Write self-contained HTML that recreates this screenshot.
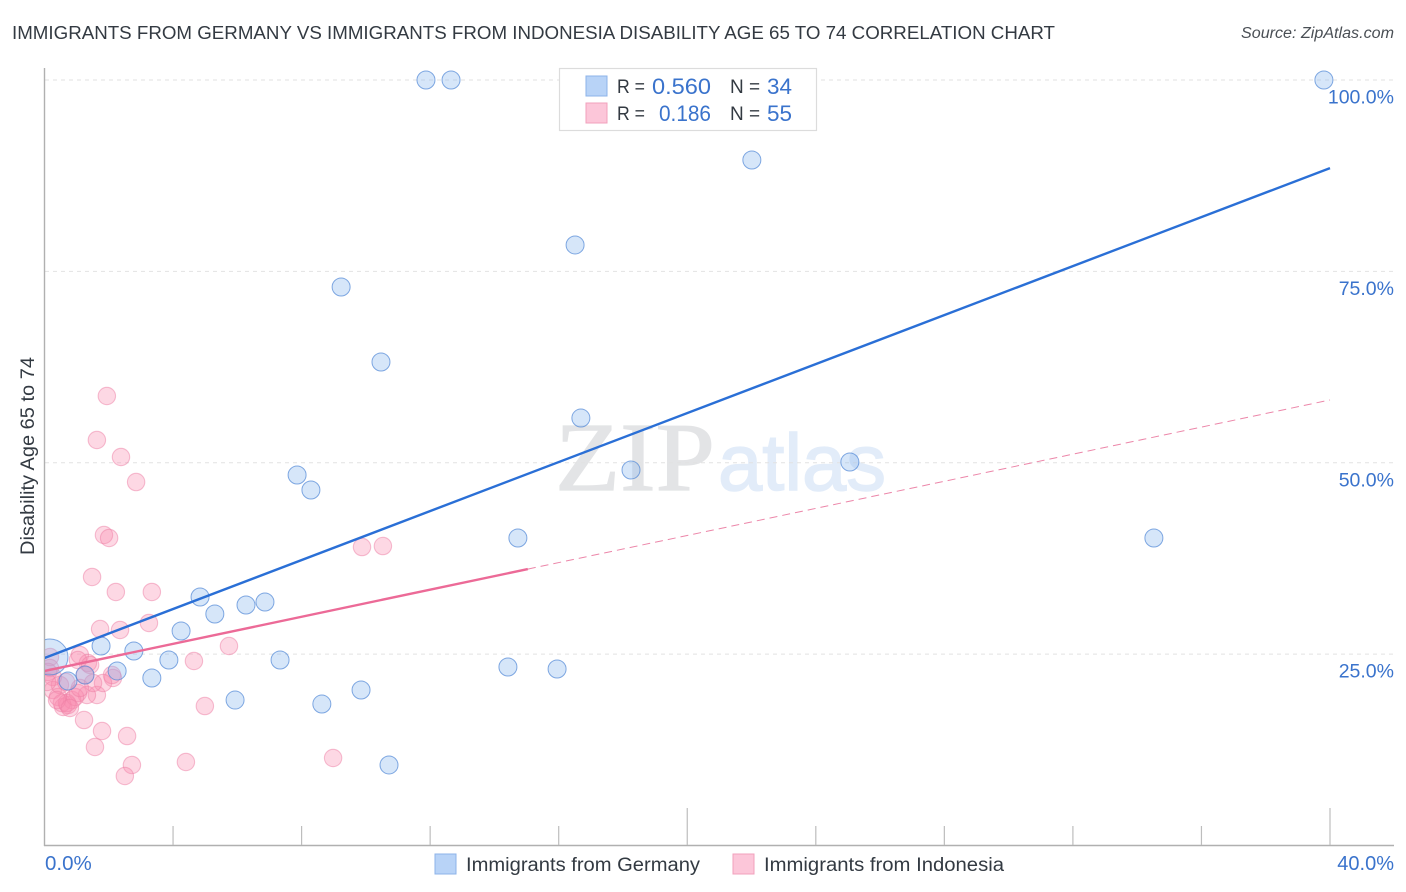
<!DOCTYPE html>
<html>
<head>
<meta charset="utf-8">
<title>Immigrants from Germany vs Immigrants from Indonesia Disability Age 65 to 74</title>
<style>
html,body{margin:0;padding:0;background:#fff;width:1406px;height:892px;overflow:hidden}
svg{display:block}
text{font-family:"Liberation Sans",sans-serif}
</style>
</head>
<body>
<svg id="chart" width="1406" height="892" viewBox="0 0 1406 892" xmlns="http://www.w3.org/2000/svg">
  <defs><clipPath id="plot-clip"><rect x="45" y="60" width="1349" height="785"/></clipPath></defs>
  <text x="12" y="39" font-size="18.5" fill="#333a42" textLength="1043" lengthAdjust="spacingAndGlyphs">IMMIGRANTS FROM GERMANY VS IMMIGRANTS FROM INDONESIA DISABILITY AGE 65 TO 74 CORRELATION CHART</text>
  <text x="1241" y="38" font-size="15.5" font-style="italic" fill="#4a4f55" textLength="153" lengthAdjust="spacingAndGlyphs">Source: ZipAtlas.com</text>
  <g>
    <text x="555" y="490" font-size="97" style="font-family:'Liberation Serif',serif" fill="#e3e4e6" stroke="#e3e4e6" stroke-width="1.2" textLength="160" lengthAdjust="spacingAndGlyphs">ZIP</text>
    <text x="718" y="490" font-size="80" fill="#e2ecf9" stroke="#e2ecf9" stroke-width="1.5" textLength="168" lengthAdjust="spacingAndGlyphs">atlas</text>
  </g>
  <g id="grid"></g>
  <g id="axes"></g>
  <g id="pink-points" clip-path="url(#plot-clip)"></g>
  <g id="blue-points" clip-path="url(#plot-clip)"></g>
  <g id="trends" clip-path="url(#plot-clip)"></g>
  <text transform="translate(34,555) rotate(-90)" font-size="19" fill="#333a42" textLength="198" lengthAdjust="spacingAndGlyphs">Disability Age 65 to 74</text>
  <g>
    <rect x="559.5" y="68.5" width="257" height="62" fill="#fff" stroke="#dcdcdc" stroke-width="1.2"/>
    <rect x="586" y="76" width="21" height="20" fill="#b8d3f7" stroke="#8db3e8" stroke-width="1"/>
    <rect x="586" y="103" width="21" height="20" fill="#fcc6d9" stroke="#f2a0bc" stroke-width="1"/>
    <text x="617" y="93" font-size="19" fill="#333a42" textLength="28" lengthAdjust="spacingAndGlyphs">R =</text>
    <text x="652" y="94" font-size="22" fill="#3a73cc" textLength="59" lengthAdjust="spacingAndGlyphs">0.560</text>
    <text x="730" y="93" font-size="19" fill="#333a42">N =</text>
    <text x="767" y="94" font-size="22" fill="#3a73cc" textLength="25" lengthAdjust="spacingAndGlyphs">34</text>
    <text x="617" y="120" font-size="19" fill="#333a42" textLength="28" lengthAdjust="spacingAndGlyphs">R =</text>
    <text x="659" y="121" font-size="22" fill="#3a73cc" textLength="52" lengthAdjust="spacingAndGlyphs">0.186</text>
    <text x="730" y="120" font-size="19" fill="#333a42">N =</text>
    <text x="767" y="121" font-size="22" fill="#3a73cc" textLength="25" lengthAdjust="spacingAndGlyphs">55</text>
  </g>
  <g>
    <rect x="435" y="854" width="21" height="20" fill="#b8d3f7" stroke="#8db3e8" stroke-width="1"/>
    <text x="466" y="871" font-size="19" fill="#333a42" textLength="234" lengthAdjust="spacingAndGlyphs">Immigrants from Germany</text>
    <rect x="733" y="854" width="21" height="20" fill="#fcc6d9" stroke="#f2a0bc" stroke-width="1"/>
    <text x="764" y="871" font-size="19" fill="#333a42" textLength="240" lengthAdjust="spacingAndGlyphs">Immigrants from Indonesia</text>
  </g>
</svg>
<script>
const yTicks = [25, 50, 75, 100];
const yTickLabels = ["25.0%", "50.0%", "75.0%", "100.0%"];
const xTicks = [0, 4, 8, 12, 16, 20, 24, 28, 32, 36, 40];
const xEndLabels = ["0.0%", "40.0%"];

const germanyX = [11.87,12.65,39.81,22.01,16.51,9.23,10.47,16.69,18.25,25.06,7.86,8.29,14.73,34.52,4.84,5.30,6.27,6.86,4.25,1.76,2.78,3.87,7.33,2.26,3.34,1.26,0.73,14.42,15.95,5.93,8.63,9.85,10.72,0.17];
const germanyY = [100,100,100,89.55,78.45,72.96,63.16,55.84,49.05,50.1,48.4,46.44,40.17,40.17,32.46,30.24,31.42,31.81,28.02,26.06,25.41,24.23,24.23,22.8,21.88,22.27,21.49,23.32,23.06,19.0,18.48,20.31,10.52,24.62];
const germanySizes = [9,9,9,9,9,9,9,9,9,9,9,9,9,9,9,9,9,9,9,9,9,9,9,9,9,9,9,9,9,9,9,9,9,18];

const indonesiaX = [1.48,2.22,3.34,1.73,2.35,3.25,5.74,4.65,4.99,4.40,2.72,2.50,1.57,2.57,1.79,1.23,1.94,1.63,2.38,2.85,1.85,2.01,9.88,10.53,8.98,1.10,1.35,1.26,2.13,2.10,1.63,1.32,1.82,1.51,0.17,0.17,0.26,0.26,0.42,0.58,0.73,0.86,1.04,0.54,0.70,0.95,0.11,0.48,1.10,0.67,0.39,0.79,1.04,0.08,1.42];
const indonesiaY = [35.08,33.12,33.12,28.28,28.15,29.07,26.06,24.1,18.22,10.91,10.52,9.08,12.87,14.3,14.96,16.39,58.72,52.97,50.75,47.48,40.56,40.17,38.99,39.12,11.43,24.89,23.84,22.27,21.88,22.27,19.66,19.66,21.23,21.23,24.62,23.19,22.01,20.31,19.4,18.09,18.35,19.0,19.92,18.61,18.61,19.4,22.67,20.97,20.57,21.36,19.0,17.96,24.23,21.36,23.58];

const germanyTrend = [24.49, 1.6];
const indonesiaTrend = [22.8, 0.885];
const indonesiaSolidEnd = 15.04;
const xDomainMax = 40;

const NS = "http://www.w3.org/2000/svg";
function X(v){ return 44.5 + v * (1285.5 / 40); }
function Y(v){ return 845.5 - v * 7.655; }
function make(tag, attrs, parent){
  const el = document.createElementNS(NS, tag);
  for (const k in attrs) el.setAttribute(k, attrs[k]);
  parent.appendChild(el);
  return el;
}
const grid = document.getElementById("grid");
const axes = document.getElementById("axes");

yTicks.forEach(function(t, i){
  const line = make("line", {x1:45, x2:1394, y1:Y(t), y2:Y(t), stroke:"#e2e2e2", "stroke-width":1, "stroke-dasharray":"4 4"}, grid);
  
  
  const lab = make("text", {x:1394, y:Y(t) + 23.5, "font-size":19.5, fill:"#3a73cc", "text-anchor":"end"}, axes);
  lab.textContent = yTickLabels[i];
  
  
});

const yAxis = make("line", {x1:44.5, x2:44.5, y1:68, y2:846, stroke:"#b0b0b0", "stroke-width":1.4}, axes);


const xAxis = make("line", {x1:44, x2:1394, y1:845.5, y2:845.5, stroke:"#b0b0b0", "stroke-width":1.4}, axes);



xTicks.forEach(function(t, i){
  if (i === 0) return;
  const tall = (t === 20 || t === 40);
  const tick = make("line", {x1:X(t), x2:X(t), y1:tall ? 808 : 826, y2:845, stroke:"#bdbdbd", "stroke-width":1.2}, axes);
  
  
});

const xLab0 = make("text", {x:45, y:870, "font-size":20.5, fill:"#3a73cc"}, axes);
xLab0.textContent = xEndLabels[0];


const xLab1 = make("text", {x:1394, y:870, "font-size":20, fill:"#3a73cc", "text-anchor":"end"}, axes);
xLab1.textContent = xEndLabels[1];



const pinkGroup = document.getElementById("pink-points");
indonesiaX.forEach(function(v, i){
  const c = make("circle", {cx:X(v), cy:Y(indonesiaY[i]), r:8.7, fill:"#f98cb0", "fill-opacity":0.34, stroke:"#ee7fa5", "stroke-opacity":0.5, "stroke-width":1.1}, pinkGroup);
  
  
});
const blueGroup = document.getElementById("blue-points");
germanyX.forEach(function(v, i){
  const c = make("circle", {cx:X(v), cy:Y(germanyY[i]), r:germanySizes[i], fill:"#8ab6ee", "fill-opacity":0.35, stroke:"#4f86d6", "stroke-opacity":0.7, "stroke-width":1}, blueGroup);
  
  
});

const trends = document.getElementById("trends");
function trendY(tr, x){ return tr[0] + tr[1] * x; }
const blueLine = make("line", {x1:X(0), y1:Y(trendY(germanyTrend,0)), x2:X(xDomainMax), y2:Y(trendY(germanyTrend,xDomainMax)), stroke:"#2a6fd6", "stroke-width":2.4}, trends);


const pinkLine = make("line", {x1:X(0), y1:Y(trendY(indonesiaTrend,0)), x2:X(indonesiaSolidEnd), y2:Y(trendY(indonesiaTrend,indonesiaSolidEnd)), stroke:"#ec6a97", "stroke-width":2.4}, trends);


const pinkDash = make("line", {x1:X(indonesiaSolidEnd), y1:Y(trendY(indonesiaTrend,indonesiaSolidEnd)), x2:X(xDomainMax), y2:Y(trendY(indonesiaTrend,xDomainMax)), stroke:"#ec86a9", "stroke-width":1, "stroke-dasharray":"8 5"}, trends);


</script>
</body>
</html>
